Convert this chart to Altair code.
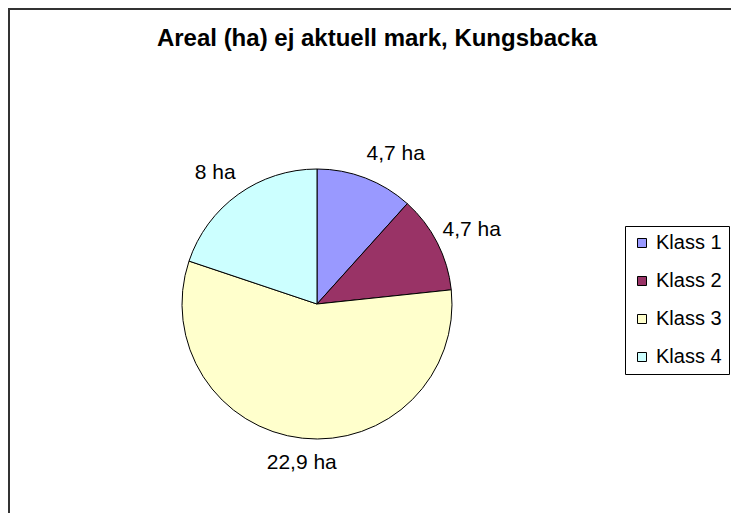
import altair as alt
import pandas as pd

# ---- data ----
categories = ["Klass 1", "Klass 2", "Klass 3", "Klass 4"]
values = [4.7, 4.7, 22.9, 8.0]
labels = ["4,7 ha", "4,7 ha", "22,9 ha", "8 ha"]
colors = ["#9999FF", "#993366", "#FFFFCC", "#CCFFFF"]
title_text = "Areal (ha) ej aktuell mark, Kungsbacka"

df = pd.DataFrame({
    "cat": categories,
    "value": values,
    "label": labels,
    "idx": list(range(len(categories))),
})

FONT = "Liberation Sans"
R = 135
CX, CY = 308, 236
W, H = 722, 445

base = alt.Chart(df)

arcs = base.mark_arc(outerRadius=R, stroke="black", strokeWidth=1).encode(
    theta=alt.Theta("value:Q", stack=True),
    order=alt.Order("idx:Q"),
    color=alt.Color(
        "cat:N",
        scale=alt.Scale(domain=categories, range=colors),
        legend=alt.Legend(
            title=None,
            orient="none",
            legendX=616,
            legendY=158,
            strokeColor="black",
            fillColor="white",
            padding=7,
            symbolType="square",
            symbolSize=81,
            symbolStrokeColor="black",
            symbolStrokeWidth=1,
            symbolOpacity=1,
            labelFont=FONT,
            labelFontSize=20,
            labelColor="black",
            labelOffset=4,
            rowPadding=18,
        ),
    ),
    x=alt.value(CX),
    y=alt.value(CY),
)

text = (
    base.transform_joinaggregate(total="sum(value)")
    .transform_window(cum="sum(value)", sort=[alt.SortField("idx")], frame=[None, 0])
    .transform_calculate(
        a="2*PI*(datum.cum - datum.value/2)/datum.total",
        s="sin(datum.a)",
        c="cos(datum.a)",
        hw="length(datum.label)*5",
        sx="(datum.s<0?-1:1)*clamp((abs(datum.s)-0.12)*4,0,1)",
        sy="(datum.c<0?1:-1)*clamp((abs(datum.c)-0.12)*2,0,1)",
        px="140*datum.s + datum.hw*datum.sx",
        py="-152*datum.c + 8*datum.sy",
        ta="atan2(datum.px, -datum.py)",
        tr="sqrt(datum.px*datum.px + datum.py*datum.py)",
    )
    .mark_text(font=FONT, fontSize=21, color="black", baseline="middle", align="center")
    .encode(
        theta=alt.Theta("ta:Q", scale=None, stack=False),
        radius=alt.Radius("tr:Q", scale=None),
        text="label:N",
        x=alt.value(CX),
        y=alt.value(CY),
    )
)

border_top = base.mark_rule(color="#333333", strokeWidth=2).encode(
    x=alt.value(-1), x2=alt.value(W + 1), y=alt.value(-59)
)
border_left = base.mark_rule(color="#333333", strokeWidth=2).encode(
    x=alt.value(0), y=alt.value(-60), y2=alt.value(H)
)

chart = (
    alt.layer(border_top, border_left, arcs, text)
    .properties(
        width=W,
        height=H,
        title=alt.Title(
            title_text,
            font=FONT,
            fontSize=24,
            fontWeight="bold",
            color="black",
            anchor="middle",
            baseline="alphabetic",
            offset=-63,
            dx=7,
        ),
        autosize=alt.AutoSizeParams(type="none"),
        padding={"left": 1, "top": 60, "right": 0, "bottom": 0},
        background="white",
    )
    .configure_view(stroke=None)
)

chart.save("out.html", embed_options={"renderer": "svg", "actions": False})
